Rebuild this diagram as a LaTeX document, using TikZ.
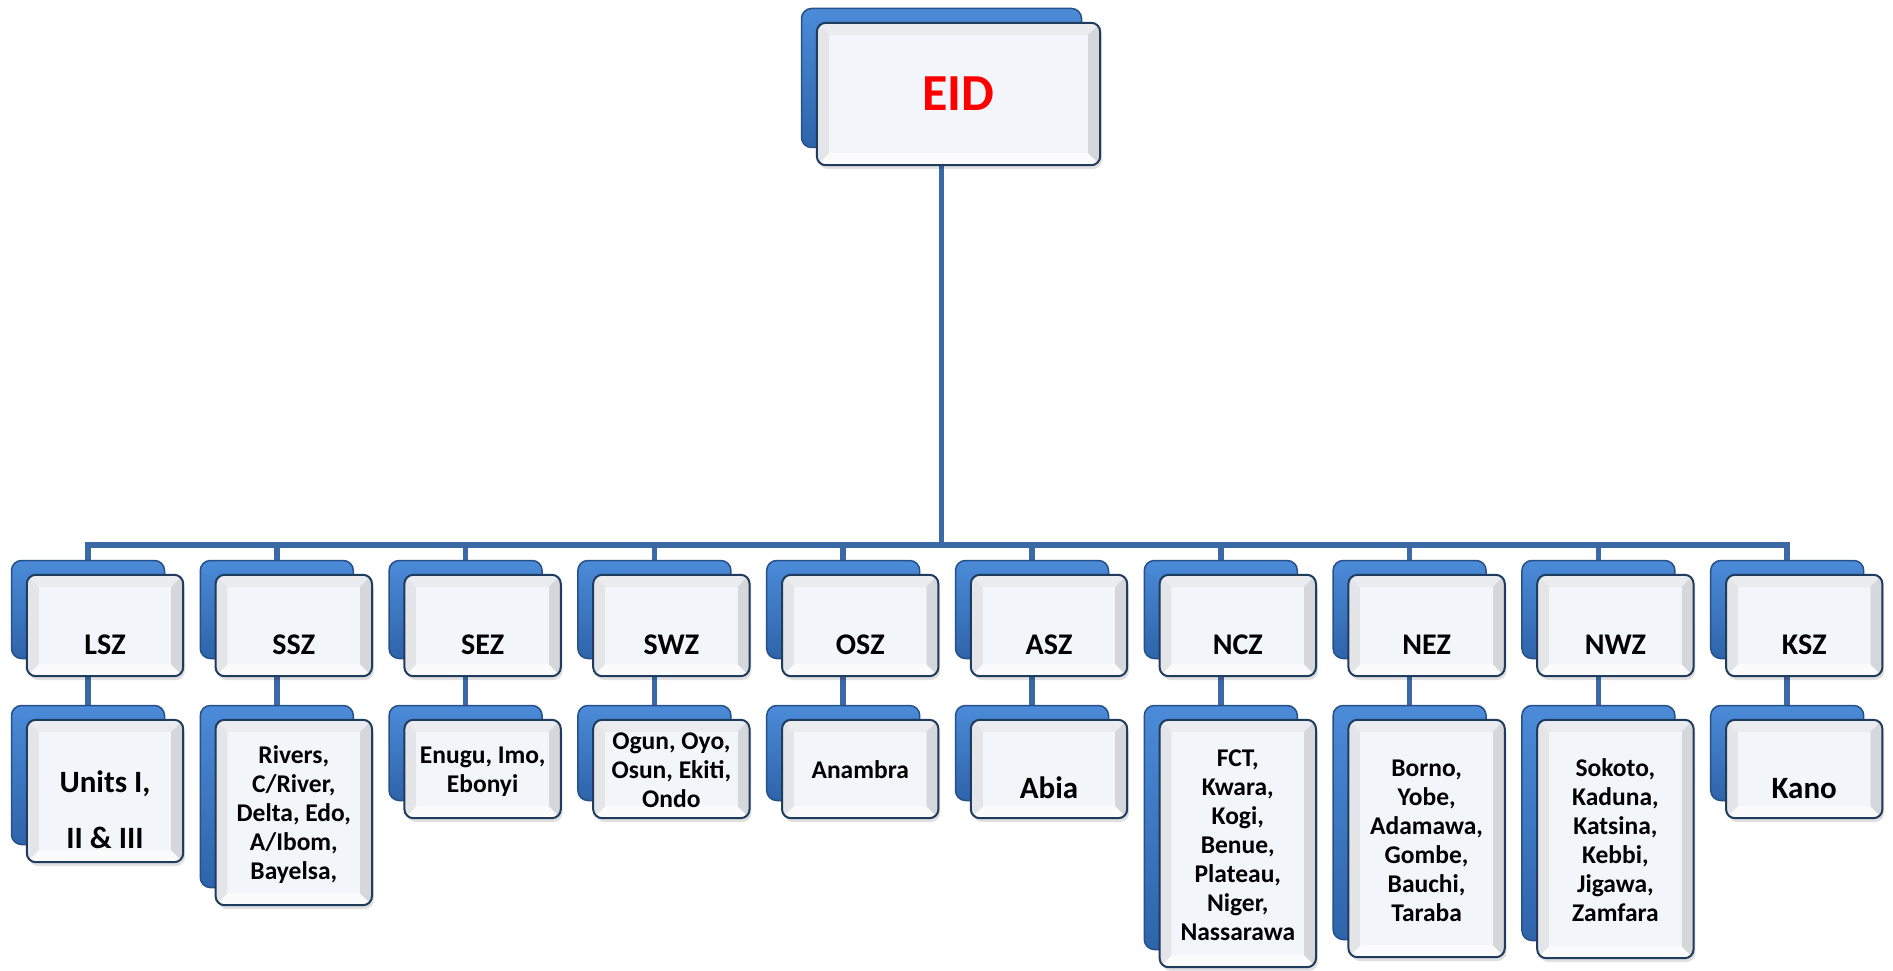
\documentclass[tikz,border=0pt]{standalone}
\usepackage{fontspec}
\setmainfont{Carlito}
\usetikzlibrary{calc,backgrounds}
\definecolor{backtop}{HTML}{4B8BD8}
\definecolor{backbot}{HTML}{2E64AA}
\definecolor{backedge}{HTML}{27508A}
\definecolor{frontedgec}{HTML}{1F3B5E}
\definecolor{connblue}{HTML}{3B69A5}
\definecolor{facec}{HTML}{F2F5FA}
\definecolor{bvtopc}{HTML}{EAECEF}
\definecolor{bvbotc}{HTML}{FBFBFB}
\definecolor{bvleftc}{HTML}{E3E5E8}
\definecolor{bvrightc}{HTML}{D5D7DA}
\tikzset{
  backbox/.style={rectangle, draw=backedge, line width=1.5pt, rounded corners=10pt,
    top color=backtop, bottom color=backbot, inner sep=0pt},
  frontbox/.style={rectangle, rounded corners=9pt, fill=white, inner sep=0pt},
  frontedge/.style={draw=frontedgec, line width=2pt, rounded corners=9pt},
  conn/.style={draw=connblue, line width=5.5pt, line join=miter},
  eidlabel/.style={font=\bfseries\fontsize{52}{60}\selectfont, text=red, inner sep=0pt},
  zlabel/.style={font=\bfseries\fontsize{30}{36}\selectfont, text=black, inner sep=0pt},
  slist/.style={font=\bfseries\fontsize{25.5}{29}\selectfont, align=center, text=black, inner sep=0pt},
  sbig/.style={font=\bfseries\fontsize{31}{56}\selectfont, align=center, text=black, inner sep=0pt},
}
\newcommand\boxpair[5]{%
  \node[backbox, minimum width=#4-3, minimum height=#5-3] (#1b) at (#2-17,#3-16) {};
  \fill[black, opacity=0.12, rounded corners=9pt] (#2-#4/2+2,#3-#5/2+4) rectangle (#2+#4/2+2,#3+#5/2+4);
  \node[frontbox, minimum width=#4, minimum height=#5] (#1) at (#2,#3) {};
  \begin{scope}
    \clip[rounded corners=9pt] (#1.north west) rectangle (#1.south east);
    \fill[bvtopc] (#1.north west) -- (#1.north east) -- ($(#1.north east)+(-12,12)$) -- ($(#1.north west)+(12,12)$) -- cycle;
    \fill[bvbotc] (#1.south west) -- (#1.south east) -- ($(#1.south east)+(-12,-12)$) -- ($(#1.south west)+(12,-12)$) -- cycle;
    \fill[bvleftc] (#1.north west) -- ($(#1.north west)+(12,12)$) -- ($(#1.south west)+(12,-12)$) -- (#1.south west) -- cycle;
    \fill[bvrightc] (#1.north east) -- ($(#1.north east)+(-12,12)$) -- ($(#1.south east)+(-12,-12)$) -- (#1.south east) -- cycle;
    \fill[facec] ($(#1.north west)+(12,12)$) rectangle ($(#1.south east)+(-12,-12)$);
  \end{scope}
  \draw[frontedge] (#1.north west) rectangle (#1.south east);
}
\begin{document}
\begin{tikzpicture}[x=1pt,y=-1pt]
\useasboundingbox (0,0) rectangle (1893,971);
% top box
\boxpair{eid}{958.5}{94}{283}{142}
\node[eidlabel] (eidt) at (958.5,93.5) {EID};
% zone boxes
\boxpair{lsz}{105}{625.5}{156}{101}
\boxpair{ssz}{293.8}{625.5}{156}{101}
\boxpair{sez}{482.6}{625.5}{156}{101}
\boxpair{swz}{671.4}{625.5}{156}{101}
\boxpair{osz}{860.2}{625.5}{156}{101}
\boxpair{asz}{1049}{625.5}{156}{101}
\boxpair{ncz}{1237.8}{625.5}{156}{101}
\boxpair{nez}{1426.6}{625.5}{156}{101}
\boxpair{nwz}{1615.4}{625.5}{156}{101}
\boxpair{ksz}{1804.2}{625.5}{156}{101}
\node[zlabel] (lszt) at (105,645) {LSZ};
\node[zlabel] (sszt) at (293.8,645) {SSZ};
\node[zlabel] (sezt) at (482.6,645) {SEZ};
\node[zlabel] (swzt) at (671.4,645) {SWZ};
\node[zlabel] (oszt) at (860.2,645) {OSZ};
\node[zlabel] (aszt) at (1049,645) {ASZ};
\node[zlabel] (nczt) at (1237.8,645) {NCZ};
\node[zlabel] (nezt) at (1426.6,645) {NEZ};
\node[zlabel] (nwzt) at (1615.4,645) {NWZ};
\node[zlabel] (kszt) at (1804.2,645) {KSZ};
% state boxes
\boxpair{lszs}{105}{791}{156}{142}
\boxpair{sszs}{293.8}{812.5}{156}{185}
\boxpair{sezs}{482.6}{769}{156}{98}
\boxpair{swzs}{671.4}{769}{156}{98}
\boxpair{oszs}{860.2}{769}{156}{98}
\boxpair{aszs}{1049}{769}{156}{98}
\boxpair{nczs}{1237.8}{843.5}{156}{247}
\boxpair{nezs}{1426.6}{838.5}{156}{237}
\boxpair{nwzs}{1615.4}{839}{156}{238}
\boxpair{kszs}{1804.2}{769}{156}{98}
\node[sbig] (lszst) at (105,810) {Units I,\\II \& III};
\node[slist] (sszst) at (293.8,815) {Rivers,\\C/River,\\Delta, Edo,\\A/Ibom,\\Bayelsa,};
\node[slist] (sezst) at (482.6,772) {Enugu, Imo,\\Ebonyi};
\node[slist] (swzst) at (671.4,770) {Ogun, Oyo,\\Osun, Ekiti,\\Ondo};
\node[slist] (oszst) at (860.2,770) {Anambra};
\node[sbig] (aszst) at (1049,788) {Abia};
\node[slist] (nczst) at (1237.8,845) {FCT,\\Kwara,\\Kogi,\\Benue,\\Plateau,\\Niger,\\Nassarawa};
\node[slist] (nezst) at (1426.6,841) {Borno,\\Yobe,\\Adamawa,\\Gombe,\\Bauchi,\\Taraba};
\node[slist] (nwzst) at (1615.4,840) {Sokoto,\\Kaduna,\\Katsina,\\Kebbi,\\Jigawa,\\Zamfara};
\node[sbig] (kszst) at (1804.2,789) {Kano};
% connectors
\begin{pgfonlayer}{background}
\fill[white] (0,0) rectangle (1893,971);
\coordinate (bar) at (942,545);
\draw[conn] (eidb.south) -- (eidb.south |- bar);
\draw[conn] (lszb.north) -- (lszb.north |- bar) -- (kszb.north |- bar) -- (kszb.north);
\foreach \z in {ssz,sez,swz,osz,asz,ncz,nez,nwz}{
  \draw[conn] (\z b.north |- bar) -- (\z b.north);
}
\foreach \z in {lsz,ssz,sez,swz,osz,asz,ncz,nez,nwz,ksz}{
  \draw[conn] (\z b.south) -- (\z sb.north);
}
\end{pgfonlayer}
\end{tikzpicture}
\end{document}
